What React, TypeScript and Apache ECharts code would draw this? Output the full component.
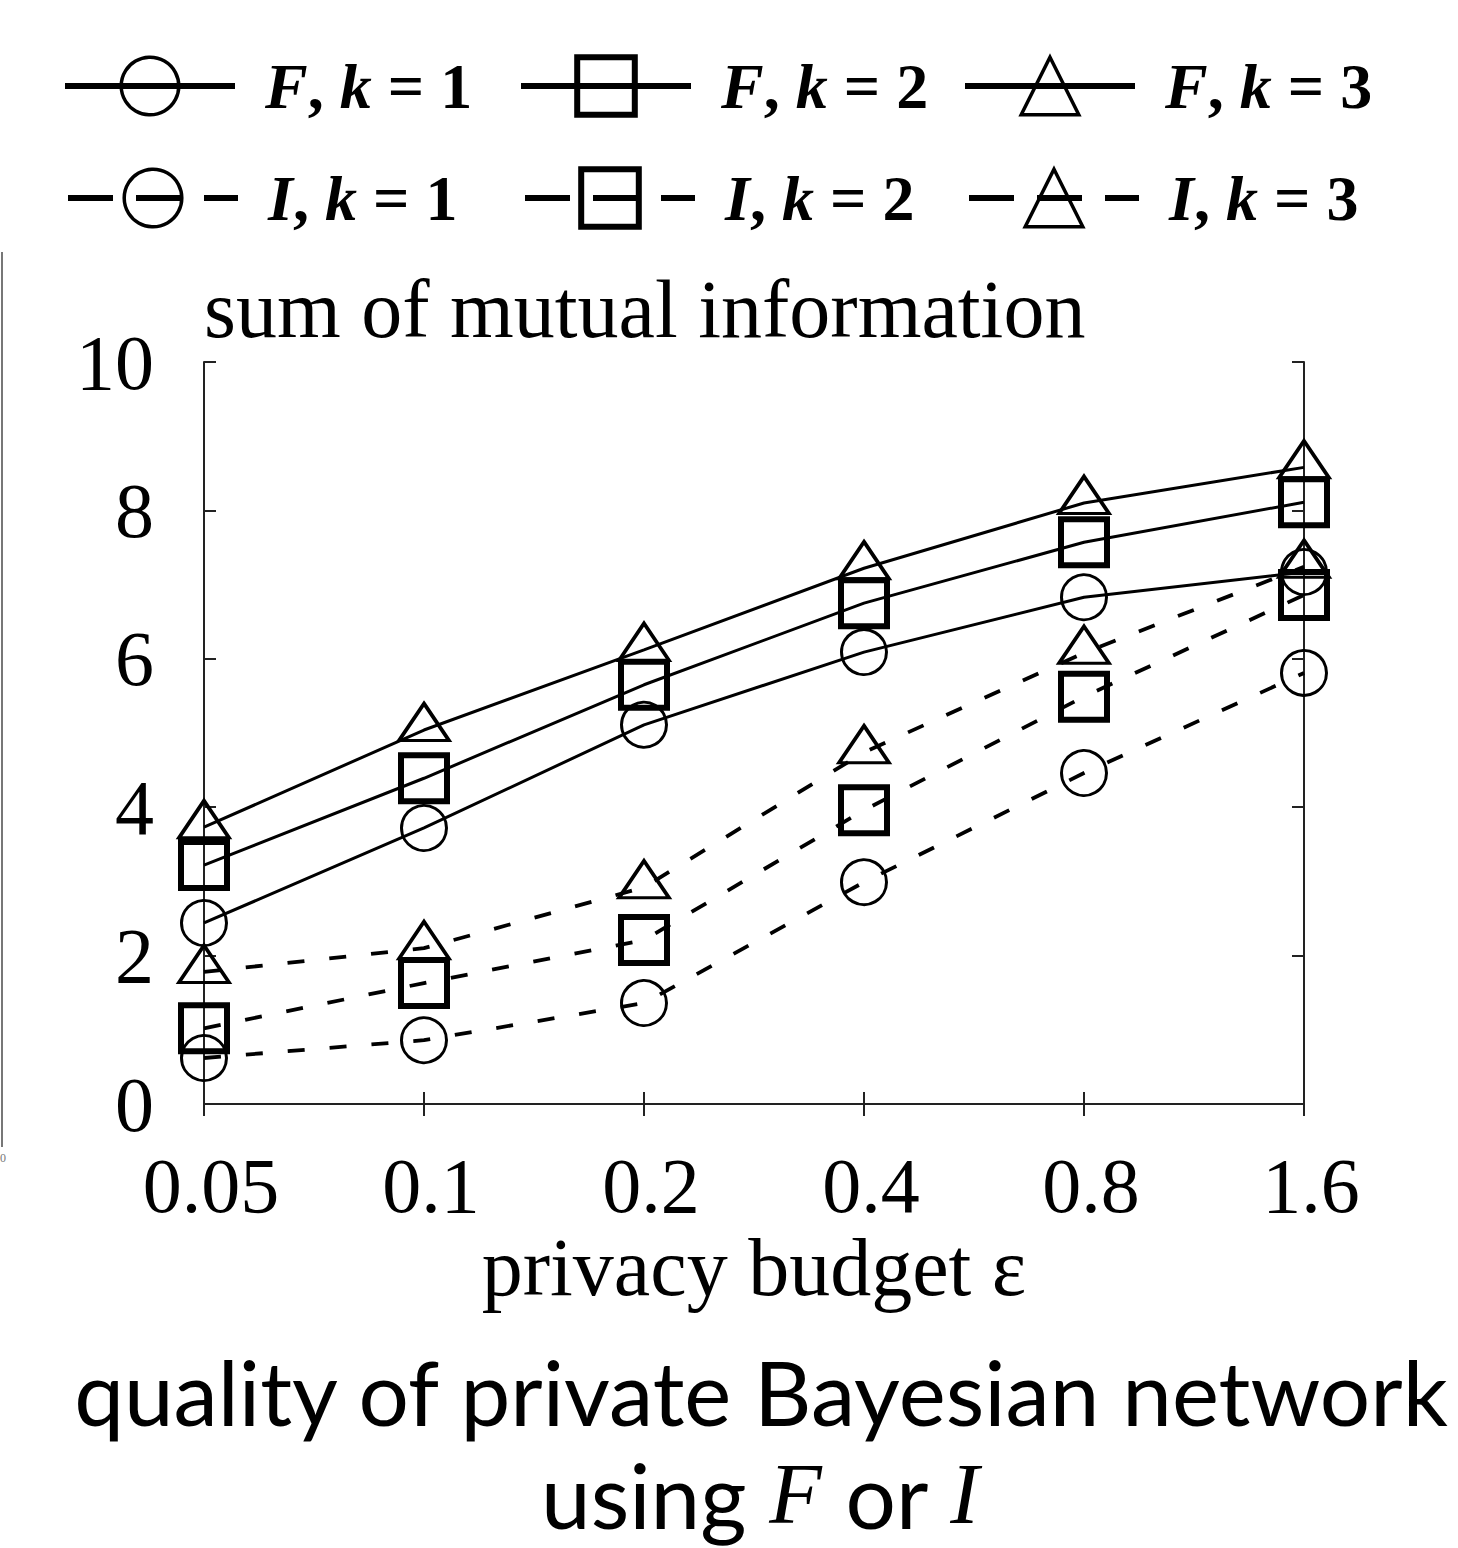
import React, { useEffect, useRef } from "react";
import * as echarts from "echarts";

const categories = ["0.05", "0.1", "0.2", "0.4", "0.8", "1.6"];
const fK1 = [2.44, 3.72, 5.11, 6.09, 6.83, 7.17];
const fK2 = [3.22, 4.39, 5.65, 6.75, 7.57, 8.11];
const fK3 = [3.73, 5.04, 6.12, 7.22, 8.1, 8.58];
const iK1 = [0.62, 0.86, 1.36, 2.99, 4.46, 5.81];
const iK2 = [1.02, 1.63, 2.21, 3.96, 5.49, 6.86];
const iK3 = [1.78, 2.1, 2.92, 4.74, 6.08, 7.24];
const yMin = 0;
const yMax = 10;
const yStep = 2;

const seriesNames = ["F, k = 1", "F, k = 2", "F, k = 3", "I, k = 1", "I, k = 2", "I, k = 3"];
const seriesValues = [fK1, fK2, fK3, iK1, iK2, iK3];

const SERIF = "'Liberation Serif', 'Times New Roman', serif";
const SANS = "Lato, 'Noto Sans', sans-serif";

export default function App() {
  const ref = useRef<HTMLDivElement>(null);
  useEffect(() => {
    if (!ref.current) return;
    const chart = echarts.init(ref.current, null, { renderer: "svg" });

    const markerFor = (i: number) => {
      const k = i % 3;
      if (k === 0) return { symbol: "circle", symbolSize: 45, borderWidth: 3, symbolOffset: [0, 0] };
      if (k === 1) return { symbol: "rect", symbolSize: 46, borderWidth: 6, symbolOffset: [0, 0] };
      return { symbol: "triangle", symbolSize: [50, 37], borderWidth: 3.5, symbolOffset: [0, -8] };
    };

    const series = seriesNames.map((name, i) => {
      const m = markerFor(i);
      const dashed = i >= 3;
      return {
        name,
        type: "line",
        data: seriesValues[i],
        symbol: m.symbol,
        symbolSize: m.symbolSize,
        symbolOffset: m.symbolOffset,
        showSymbol: true,
        itemStyle: { color: "rgba(0,0,0,0)", borderColor: "#000", borderWidth: m.borderWidth },
        lineStyle: { color: "#000", width: dashed ? 3.8 : 3, type: dashed ? [17, 25] : "solid" },
        emphasis: { disabled: true },
        z: 3,
      };
    });

    const legendPos = [
      [62, 54],
      [518, 54],
      [962, 54],
      [65, 166],
      [522, 166],
      [966, 166],
    ];
    const legendBorder = [3.5, 6, 3.5, 3.5, 6, 3.5];

    const legends = seriesNames.map((name, i) => ({
      data: [name],
      left: legendPos[i][0],
      top: legendPos[i][1],
      padding: 0,
      itemWidth: 170,
      itemHeight: 72,
      selectedMode: false,
      lineStyle: { width: 6, type: i >= 3 ? [45, 23] : "solid", color: "#000" },
      itemStyle: { color: "rgba(0,0,0,0)", borderColor: "#000", borderWidth: legendBorder[i] },
      formatter: (n: string) => {
        const parts = n.split(", k = ");
        return `{i|${parts[0]}}{n|, }{i|k}{n| = ${parts[1]}}`;
      },
      textStyle: {
        padding: [0, 0, 0, 25],
        color: "#000",
        fontFamily: SERIF,
        fontSize: 64,
        rich: {
          i: { fontFamily: SERIF, fontStyle: "italic", fontWeight: "bold", fontSize: 64, color: "#000" },
          n: { fontFamily: SERIF, fontWeight: "bold", fontSize: 64, color: "#000" },
        },
      },
    }));

    const axisLine = { show: true, lineStyle: { color: "#222", width: 2 } };
    const tick = { show: true, inside: true, length: 12, lineStyle: { color: "#222", width: 2 } };

    const option: any = {
      animation: false,
      backgroundColor: "#fff",
      title: {
        text: "sum of mutual information",
        left: 199,
        top: 263,
        textStyle: { fontFamily: SERIF, fontSize: 82, fontWeight: "normal", color: "#000" },
      },
      legend: legends,
      grid: { left: 204, top: 362, width: 1100, height: 742, containLabel: false },
      xAxis: [
        {
          type: "category",
          data: categories,
          boundaryGap: false,
          position: "bottom",
          axisLine,
          axisTick: tick,
          splitLine: { show: false },
          axisLabel: {
            fontFamily: SERIF,
            fontSize: 78,
            color: "#000",
            margin: 42,
            padding: [0, 0, 0, 14],
          },
          name: "privacy budget ε",
          nameLocation: "middle",
          nameGap: 122,
          nameTextStyle: { fontFamily: SERIF, fontSize: 82, color: "#000" },
        },
        {
          type: "category",
          data: categories,
          boundaryGap: false,
          position: "top",
          axisLine,
          axisTick: tick,
          axisLabel: { show: false },
          splitLine: { show: false },
        },
      ],
      yAxis: [
        {
          type: "value",
          min: yMin,
          max: yMax,
          interval: yStep,
          position: "left",
          axisLine,
          axisTick: tick,
          splitLine: { show: false },
          axisLabel: { fontFamily: SERIF, fontSize: 78, color: "#000", margin: 50 },
        },
        {
          type: "value",
          min: yMin,
          max: yMax,
          interval: yStep,
          position: "right",
          axisLine,
          axisTick: tick,
          splitLine: { show: false },
          axisLabel: { show: false },
        },
      ],
      series,
      graphic: [
        {
          type: "line",
          shape: { x1: 2, y1: 252, x2: 2, y2: 1147 },
          style: { stroke: "#777", lineWidth: 2 },
          silent: true,
        },
        {
          type: "text",
          x: 0,
          y: 1152,
          style: { text: "0", fontSize: 12, fontFamily: SERIF, fill: "#777" },
          silent: true,
        },
        {
          type: "text",
          x: 761,
          y: 1391,
          silent: true,
          style: {
            text: "quality of private Bayesian network",
            fontFamily: SANS,
            fontSize: 89,
            fill: "#000",
            align: "center",
            verticalAlign: "middle",
            textAlign: "center",
            textVerticalAlign: "middle",
          },
        },
        {
          type: "text",
          x: 760,
          y: 1494,
          silent: true,
          style: {
            text: "{s|using }{m|F}{s| or }{m|I}",
            fontFamily: SANS,
            fontSize: 89,
            fill: "#000",
            align: "center",
            verticalAlign: "middle",
            textAlign: "center",
            textVerticalAlign: "middle",
            rich: {
              s: { fontFamily: SANS, fontSize: 89, fill: "#000", color: "#000" },
              m: { fontFamily: SERIF, fontStyle: "italic", fontSize: 86, fill: "#000", color: "#000" },
            },
          },
        },
      ],
    };

    chart.setOption(option);
    return () => chart.dispose();
  }, []);

  return (
    <div
      ref={ref}
      style={{ position: "absolute", left: 0, top: 0, width: 1458, height: 1548 }}
    />
  );
}
